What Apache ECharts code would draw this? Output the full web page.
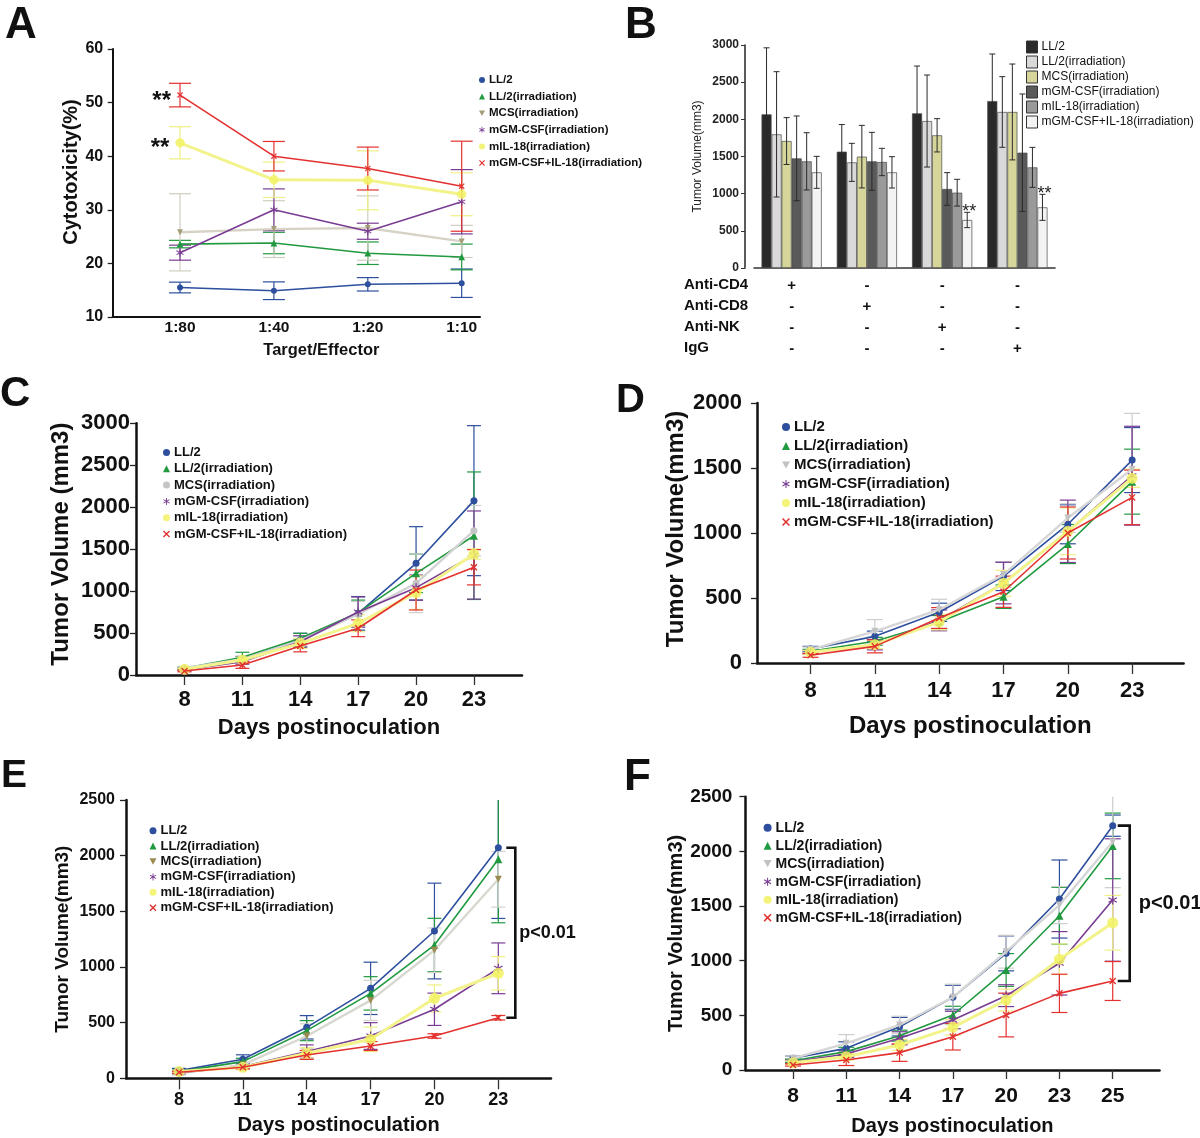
<!DOCTYPE html>
<html><head><meta charset="utf-8">
<script src="https://cdn.jsdelivr.net/npm/echarts@6/dist/echarts.min.js"></script>
<style>html,body{margin:0;padding:0;background:#fff}#c{width:1200px;height:1138px}</style>
</head><body><div id="c"></div>
<script>
// ---------------- DATA ----------------
const names = ['LL/2','LL/2(irradiation)','MCS(irradiation)','mGM-CSF(irradiation)','mIL-18(irradiation)','mGM-CSF+IL-18(irradiation)'];

// Panel A: cytotoxicity (%)
const A_ratios = ['1:80','1:40','1:20','1:10'];
const A_LL2 = [15.5,14.9,16.1,16.3];        const A_LL2_err = [1.0,1.65,1.25,2.65];
const A_LL2irr = [23.6,23.8,21.9,21.2];     const A_LL2irr_err = [0.7,2.0,2.1,2.4];
const A_MCS = [25.8,26.4,26.6,24.1];        const A_MCS_err = [7.2,5.3,6.0,3.0];
const A_GM = [22.0,30.0,26.0,31.5];         const A_GM_err = [1.4,3.9,1.5,6.0];
const A_IL18 = [42.5,35.6,35.5,32.9];       const A_IL18_err = [3.0,3.3,5.5,4.0];
const A_combo = [51.4,40.0,37.7,34.4];      const A_combo_err = [2.2,2.75,4.0,8.4];
const A_IL18_sig = ['**','','',''];
const A_combo_sig = ['**','','',''];

// Panel B: tumor volume with depletion
const B_treatments = ['Anti-CD4','Anti-CD8','Anti-NK','IgG'];
const B_signs = { 'Anti-CD4':['+','-','-','-'], 'Anti-CD8':['-','+','-','-'], 'Anti-NK':['-','-','+','-'], 'IgG':['-','-','-','+'] };
const B_LL2 = [2067,1565,2081,2246];        const B_LL2_err = [895,365,636,633];
const B_LL2irr = [1798,1421,1977,2099];     const B_LL2irr_err = [843,256,619,475];
const B_MCS = [1708,1498,1785,2099];        const B_MCS_err = [315,421,224,645];
const B_GM = [1475,1435,1063,1551];         const B_GM_err = [570,390,220,790];
const B_IL18 = [1435,1426,1013,1354];       const B_IL18_err = [385,184,180,269];
const B_combo = [1287,1287,646,816];        const B_combo_err = [215,211,103,175];
const B_combo_sig = ['','','**','**'];

// Panels C, D, E: days 8..23
const days6 = ['8','11','14','17','20','23'];
const C_LL2 = [68,185,417,735,1331,2078];   const C_LL2_err = [15,35,80,200,437,894];
const C_LL2irr = [80,211,437,743,1212,1660];const C_LL2irr_err = [15,60,60,150,230,760];
const C_MCS = [80,187,409,725,1093,1720];   const C_MCS_err = [15,40,60,150,350,300];
const C_GM = [60,159,397,750,1041,1430];    const C_GM_err = [10,30,70,180,150,525];
const C_IL18 = [68,179,377,616,981,1442];   const C_IL18_err = [10,30,60,100,200,60];
const C_combo = [48,119,346,557,1013,1284]; const C_combo_err = [10,40,70,100,238,210];

const D_LL2 = [108,205,390,667,1067,1561];  const D_LL2_err = [20,40,70,110,150,250];
const D_LL2irr = [90,167,315,510,915,1395]; const D_LL2irr_err = [15,30,50,90,150,250];
const D_MCS = [103,244,410,680,1115,1490];  const D_MCS_err = [20,90,80,100,110,430];
const D_GM = [82,141,328,615,1013,1441];    const D_GM_err = [15,40,80,160,240,380];
const D_IL18 = [82,141,315,613,1013,1421];  const D_IL18_err = [15,30,60,100,180,70];
const D_combo = [59,128,346,548,1000,1274]; const D_combo_err = [15,50,80,120,200,210];

const E_LL2 = [69,171,458,808,1323,2071];   const E_LL2_err = [20,40,105,235,430,635];
const E_LL2irr = [60,150,428,763,1197,1967];const E_LL2irr_err = [15,30,90,150,240,570];
const E_MCS = [45,120,380,700,1150,1788];   const E_MCS_err = [15,30,110,180,200,250];
const E_GM = [51,105,240,380,620,988];      const E_GM_err = [10,20,60,120,145,228];
const E_IL18 = [60,99,225,350,719,943];     const E_IL18_err = [10,20,50,110,120,150];
const E_combo = [54,99,210,290,380,544];    const E_combo_err = [10,15,40,40,20,20];

// Panel F: days 8..25
const days7 = ['8','11','14','17','20','23','25'];
const F_LL2 = [107,198,396,665,1067,1564,2235];  const F_LL2_err = [20,60,85,110,160,357,97];
const F_LL2irr = [85,168,314,503,915,1411,2050]; const F_LL2irr_err = [15,40,50,80,150,260,300];
const F_MCS = [107,244,412,665,1082,1509,2088];  const F_MCS_err = [20,80,80,120,150,170,420];
const F_GM = [76,146,290,457,680,976,1555];      const F_GM_err = [15,30,60,80,100,290,560];
const F_IL18 = [67,122,229,390,640,1013,1347];   const F_IL18_err = [15,30,50,70,100,140,250];
const F_combo = [46,91,159,305,503,701,814];     const F_combo_err = [10,50,80,122,200,175,178];

const pText = 'p<0.01';

// ---------------- STYLE / BUILD ----------------
const FONT = '"Liberation Sans", Arial, Helvetica, sans-serif';
const NARROW = '"Liberation Sans Narrow", "Arial Narrow", "Liberation Sans", sans-serif';
const plain = v => String(v);

function bar(a, w) {
  const r = a * Math.PI / 180, dx = Math.cos(r), dy = Math.sin(r), px = -dy * w, py = dx * w;
  const p = [[dx+px,dy+py],[dx-px,dy-py],[-dx-px,-dy-py],[-dx+px,-dy+py]];
  return 'M' + p.map(q => q[0].toFixed(3) + ',' + q[1].toFixed(3)).join(' L') + ' Z ';
}
const CROSS = 'path://' + bar(45, 0.16) + bar(-45, 0.16);
const STAR = 'path://' + bar(90, 0.13) + bar(30, 0.13) + bar(-30, 0.13);
const DOWN = 'path://M-1,-0.9 L1,-0.9 L0,0.9 Z';

const COL = { blue:'#2d4f9e', green:'#20993f', purple:'#7a3c93', red:'#e3312f' };
const MCS_STYLE = {
  A:{sym:DOWN, color:'#a39e78', line:'#d6d3c6', err:'#d0cdc0'},
  C:{sym:'circle', color:'#c4c4c4', line:'#d2d2d2', err:'#cfcfcf'},
  D:{sym:DOWN, color:'#c2c2c2', line:'#d6d6d6', err:'#cdcdcd'},
  E:{sym:DOWN, color:'#9a8c50', line:'#d8d8d0', err:'#d2d2ca'},
  F:{sym:DOWN, color:'#c2c2c2', line:'#d6d6d6', err:'#cdcdcd'}
};
function styleFor(P, k) {
  const s = P === 'A' ? 0.85 : 1;
  switch (k) {
    case 0: return {sym:'circle', size:7*s, color:COL.blue, line:COL.blue, lw:1.6, err:COL.blue};
    case 1: return {sym:'triangle', size:8*s, color:COL.green, line:COL.green, lw:1.6, err:COL.green};
    case 2: { const m = MCS_STYLE[P]; return {sym:m.sym, size:7*s, color:m.color, line:m.line, lw:2.4, err:m.err}; }
    case 3: return {sym:STAR, size:9*s, color:COL.purple, line:COL.purple, lw:1.6, err:COL.purple};
    case 4: return {sym:'circle', size:11*s, color:'rgba(242,242,100,0.85)', line:'#f3f38c', lw:3, err:'#efef84'};
    default: return {sym:CROSS, size:7*s, color:COL.red, line:COL.red, lw:1.6, err:COL.red};
  }
}

const panels = {
  A:{gi:0, labels:A_ratios, means:[A_LL2,A_LL2irr,A_MCS,A_GM,A_IL18,A_combo],
     errs:[A_LL2_err,A_LL2irr_err,A_MCS_err,A_GM_err,A_IL18_err,A_combo_err],
     sig:[null,null,null,null,A_IL18_sig,A_combo_sig], ymin:10, ymax:60, yint:10, cap:11},
  C:{gi:2, labels:days6, means:[C_LL2,C_LL2irr,C_MCS,C_GM,C_IL18,C_combo],
     errs:[C_LL2_err,C_LL2irr_err,C_MCS_err,C_GM_err,C_IL18_err,C_combo_err], ymin:0, ymax:3000, yint:500, cap:7},
  D:{gi:3, labels:days6, means:[D_LL2,D_LL2irr,D_MCS,D_GM,D_IL18,D_combo],
     errs:[D_LL2_err,D_LL2irr_err,D_MCS_err,D_GM_err,D_IL18_err,D_combo_err], ymin:0, ymax:2000, yint:500, cap:8},
  E:{gi:4, labels:days6, means:[E_LL2,E_LL2irr,E_MCS,E_GM,E_IL18,E_combo],
     errs:[E_LL2_err,E_LL2irr_err,E_MCS_err,E_GM_err,E_IL18_err,E_combo_err], ymin:0, ymax:2500, yint:500, cap:7,
     bracket:{dxTick:8, dxLine:17, textDx:4, font:'bold 18px '+FONT}},
  F:{gi:5, labels:days7, means:[F_LL2,F_LL2irr,F_MCS,F_GM,F_IL18,F_combo],
     errs:[F_LL2_err,F_LL2irr_err,F_MCS_err,F_GM_err,F_IL18_err,F_combo_err], ymin:0, ymax:2500, yint:500, cap:8,
     bracket:{dxTick:5, dxLine:17, textDx:9, font:'bold 20px '+FONT}}
};

const grids = [
  {left:112.7, top:49, width:367.3, height:268},
  {left:754, top:45, width:301, height:223},
  {left:136, top:423.3, width:386, height:251.7},
  {left:757, top:403, width:426.6, height:260},
  {left:126, top:800, width:425, height:278.3},
  {left:745.4, top:796.7, width:414.1, height:273.3}
];

// axis layout per panel
const AX = {
  A:{xmin:-0.717, xmax:3.195, font:NARROW, xfs:15.5, yfs:16, axisW:2, tick:false, tickLen:0, xMargin:3, yMargin:9.5, yTickLen:5,
     xname:'Target/Effector', xnameFont:NARROW, xnameFs:16.5, xnameGap:25, xnamePad:[0,0,0,50],
     yname:'Cytotoxicity(%)', ynameFs:20, ynameGap:22.7, ynamePad:[0,0,0,22]},
  C:{xmin:-0.838, xmax:5.83, font:FONT, xfs:22, yfs:22, axisW:2.5, tick:true, tickLen:10, xMargin:14, yMargin:6, yTickLen:6,
     xname:'Days postinoculation', xnameFont:FONT, xnameFs:22, xnameGap:42, xnamePad:[0,0,0,0],
     yname:'Tumor Volume (mm3)', ynameFs:24, ynameGap:63, ynamePad:[0,0,0,10]},
  D:{xmin:-0.832, xmax:5.80, font:FONT, xfs:22, yfs:22, axisW:2.5, tick:true, tickLen:11, xMargin:17, yMargin:15, yTickLen:6,
     xname:'Days postinoculation', xnameFont:FONT, xnameFs:24, xnameGap:51, xnamePad:[0,0,0,0],
     yname:'Tumor Volume(mm3)', ynameFs:24, ynameGap:68.5, ynamePad:[0,0,0,8]},
  E:{xmin:-0.83, xmax:5.825, font:FONT, xfs:18, yfs:16, axisW:2.5, tick:true, tickLen:11, xMargin:12.5, yMargin:11, yTickLen:6,
     xname:'Days postinoculation', xnameFont:FONT, xnameFs:20, xnameGap:36.7, xnamePad:[0,0,0,0],
     yname:'Tumor Volume(mm3)', ynameFs:19, ynameGap:53.5, ynamePad:[0,0,0,0]},
  F:{xmin:-0.893, xmax:6.878, font:FONT, xfs:21, yfs:19, axisW:2.5, tick:true, tickLen:9, xMargin:16, yMargin:13, yTickLen:6,
     xname:'Days postinoculation', xnameFont:FONT, xnameFs:20, xnameGap:46, xnamePad:[0,0,0,0],
     yname:'Tumor Volume(mm3)', ynameFs:20, ynameGap:59, ynamePad:[0,0,0,0]}
};

const xAxes = [], yAxes = [], series = [];

function makeLineAxes(P) {
  const p = panels[P], a = AX[P];
  const idx = p.labels.map((_, i) => i);
  xAxes[p.gi] = {
    type:'value', gridIndex:p.gi, min:a.xmin, max:a.xmax, splitLine:{show:false},
    axisLine:{show:true, onZero:false, lineStyle:{color:'#111', width:a.axisW}},
    axisTick:{show:a.tick, customValues:idx, length:a.tickLen, lineStyle:{color:'#333', width:1.3}},
    axisLabel:{customValues:idx, formatter:v => p.labels[Math.round(v)], fontFamily:a.font, fontWeight:'bold',
               fontSize:a.xfs, color:'#111', margin:a.xMargin},
    name:a.xname, nameLocation:'middle', nameGap:a.xnameGap,
    nameTextStyle:{fontFamily:a.xnameFont, fontWeight:'bold', fontSize:a.xnameFs, color:'#111', padding:a.xnamePad, lineHeight:a.xnameFs}
  };
  yAxes[p.gi] = {
    type:'value', gridIndex:p.gi, min:p.ymin, max:p.ymax, interval:p.yint, splitLine:{show:false},
    axisLine:{show:true, onZero:false, lineStyle:{color:'#111', width:a.axisW}},
    axisTick:{show:true, length:a.yTickLen, lineStyle:{color:'#222', width:1.3}},
    axisLabel:{formatter:plain, fontFamily:a.font, fontWeight:'bold', fontSize:a.yfs, color:'#111', margin:a.yMargin},
    name:a.yname, nameLocation:'middle', nameRotate:90, nameGap:a.ynameGap,
    nameTextStyle:{fontFamily:FONT, fontWeight:'bold', fontSize:a.ynameFs, color:'#111', padding:a.ynamePad, lineHeight:a.ynameFs}
  };
}

function errSeries(gi, pts, color, cap, lw, ymax) {
  return {
    type:'custom', xAxisIndex:gi, yAxisIndex:gi, z:2, silent:true, data:pts, encode:{x:0, y:1},
    renderItem:(params, api) => {
      const x = api.value(0), y = api.value(1), e = api.value(2);
      const hiV = Math.min(y + e, ymax);
      const t = api.coord([x, hiV]), b = api.coord([x, y - e]);
      const st = {stroke:color, lineWidth:lw};
      const ch = [{type:'line', shape:{x1:t[0], y1:t[1], x2:b[0], y2:b[1]}, style:st}];
      if (y + e <= ymax) ch.push({type:'line', shape:{x1:t[0]-cap, y1:t[1], x2:t[0]+cap, y2:t[1]}, style:st});
      ch.push({type:'line', shape:{x1:b[0]-cap, y1:b[1], x2:b[0]+cap, y2:b[1]}, style:st});
      return {type:'group', children:ch};
    }
  };
}

function makeLineSeries(P) {
  const p = panels[P];
  p.means.forEach((vals, k) => {
    const s = styleFor(P, k);
    const errs = p.errs[k];
    series.push(errSeries(p.gi, vals.map((v, i) => [i, v, errs[i]]), s.err, p.cap, 1.2, p.ymax));
    const sig = p.sig ? p.sig[k] : null;
    series.push({
      type:'line', name:names[k] + '|' + P, xAxisIndex:p.gi, yAxisIndex:p.gi, z:3 + k,
      symbol:s.sym, symbolSize:s.size, showAllSymbol:true,
      itemStyle:{color:s.color}, lineStyle:{color:s.line, width:s.lw},
      emphasis:{disabled:true},
      data: vals.map((v, i) => {
        const item = {value:[i, v]};
        if (sig && sig[i]) item.label = {show:true, formatter:sig[i], position:'left', distance:6, offset:[0, 6],
          fontFamily:FONT, fontWeight:'bold', fontSize:24, color:'#111'};
        return item;
      })
    });
  });
  if (p.bracket) {
    const last = p.means.map(v => v[v.length - 1]);
    const top = Math.max(...last), bot = Math.min(...last), xi = p.labels.length - 1, br = p.bracket;
    series.push({
      type:'custom', xAxisIndex:p.gi, yAxisIndex:p.gi, z:10, silent:true, data:[[xi, top, bot]], encode:{x:0, y:1},
      renderItem:(params, api) => {
        const t = api.coord([api.value(0), api.value(1)]), b = api.coord([api.value(0), api.value(2)]);
        const x1 = t[0] + br.dxTick, x2 = t[0] + br.dxLine;
        return {type:'group', children:[
          {type:'polyline', shape:{points:[[x1, t[1]], [x2, t[1]], [x2, b[1]], [x1, b[1]]]}, style:{stroke:'#111', lineWidth:2.6, fill:null}},
          {type:'text', style:{text:pText, x:x2 + br.textDx, y:(t[1] + b[1]) / 2, align:'left', verticalAlign:'middle', font:br.font, fill:'#111'}}
        ]};
      }
    });
  }
}

['A','C','D','E','F'].forEach(P => { makeLineAxes(P); makeLineSeries(P); });

// Panel B axes & bars
xAxes[1] = {
  type:'category', gridIndex:1, data:B_treatments, boundaryGap:true,
  axisLine:{show:true, onZero:false, lineStyle:{color:'#333', width:1.6}}, axisTick:{show:false},
  axisLabel:{interval:0, margin:7.5, lineHeight:21, fontFamily:FONT, fontWeight:'bold', fontSize:15, color:'#111',
    formatter:(v, i) => B_treatments.map(t => B_signs[t][i]).join('\n')}
};
yAxes[1] = {
  type:'value', gridIndex:1, min:0, max:3000, interval:500, offset:9, splitLine:{show:false},
  axisLine:{show:true, onZero:false, lineStyle:{color:'#333', width:1.6}},
  axisTick:{show:true, length:4, lineStyle:{color:'#333'}},
  axisLabel:{formatter:plain, fontFamily:FONT, fontWeight:'bold', fontSize:12, color:'#222', margin:6},
  name:'Tumor Volume(mm3)', nameLocation:'middle', nameRotate:90, nameGap:41,
  nameTextStyle:{fontFamily:FONT, fontSize:12, color:'#222', lineHeight:12}
};
const B_vals = [B_LL2,B_LL2irr,B_MCS,B_GM,B_IL18,B_combo];
const B_errs = [B_LL2_err,B_LL2irr_err,B_MCS_err,B_GM_err,B_IL18_err,B_combo_err];
const B_sigs = [null,null,null,null,null,B_combo_sig];
const B_colors = ['#2a2a2a','#d9d9d9','#d6d69a','#5a5a5a','#9a9a9a','#f3f3f3'];
B_vals.forEach((vals, k) => {
  series.push({type:'bar', name:names[k] + '|B', xAxisIndex:1, yAxisIndex:1, data:vals, barGap:'0%', barCategoryGap:'20%',
    itemStyle:{color:B_colors[k], borderColor:'#4a4a4a', borderWidth:0.7}, emphasis:{disabled:true}, z:2});
});
B_vals.forEach((vals, k) => {
  const errs = B_errs[k], sig = B_sigs[k];
  series.push({
    type:'custom', xAxisIndex:1, yAxisIndex:1, z:6, silent:true, data:vals.map((v, i) => [i, v, errs[i]]), encode:{x:0, y:1},
    renderItem:(params, api) => {
      const i = api.value(0), v = api.value(1), e = api.value(2);
      const band = api.size([1, 0])[0], bw = band * 0.8 / 6;
      const x = api.coord([i, v])[0] + (k - 2.5) * bw;
      const t = api.coord([i, v + e])[1], b = api.coord([i, v - e])[1];
      const st = {stroke:'#2a2a2a', lineWidth:1};
      const ch = [
        {type:'line', shape:{x1:x, y1:t, x2:x, y2:b}, style:st},
        {type:'line', shape:{x1:x-3, y1:t, x2:x+3, y2:t}, style:st},
        {type:'line', shape:{x1:x-3, y1:b, x2:x+3, y2:b}, style:st}
      ];
      if (sig && sig[params.dataIndex]) ch.push({type:'text', style:{text:sig[params.dataIndex], x:x + 2, y:t, align:'center', verticalAlign:'middle', font:'18px ' + FONT, fill:'#222'}});
      return {type:'group', children:ch};
    }
  });
});

// Legends
function legIcon(P, k) {
  if (P === 'B') return 'rect';
  return [ 'circle', 'triangle', MCS_STYLE[P].sym, STAR, 'circle', CROSS ][k];
}
function legColor(P, k) {
  if (P === 'B') return B_colors[k];
  return styleFor(P, k).color;
}
const LEG = [
  {P:'A', left:479, top:73, iw:6, ih:6, font:NARROW, fs:11.5, lh:14, gap:2.6, weight:'bold'},
  {P:'B', left:1026, top:40, iw:11, ih:12, font:FONT, fs:12, lh:14, gap:1, weight:'normal'},
  {P:'C', left:163, top:445, iw:7, ih:7, font:FONT, fs:13, lh:15, gap:1.3, weight:'bold'},
  {P:'D', left:782, top:418.5, iw:8, ih:8, font:FONT, fs:15, lh:17, gap:2, weight:'bold'},
  {P:'E', left:149.5, top:823.7, iw:7, ih:7, font:FONT, fs:13, lh:14, gap:1.4, weight:'bold'},
  {P:'F', left:763.6, top:819.7, iw:8, ih:8, font:FONT, fs:14, lh:16, gap:2, weight:'bold'}
];
const legends = LEG.map(L => ({
  orient:'vertical', left:L.left, top:L.top, padding:0, itemGap:L.gap, itemWidth:L.iw, itemHeight:L.ih,
  selectedMode:false, formatter:n => n.split('|')[0],
  textStyle:{fontFamily:L.font, fontSize:L.fs, fontWeight:L.weight, color:'#111', lineHeight:L.lh, padding:[0,0,0,-1]},
  data:names.map((n, k) => ({name:n + '|' + L.P, icon:legIcon(L.P, k),
    itemStyle: L.P === 'B' ? {color:legColor(L.P, k), borderColor:'#333', borderWidth:1} : {color:legColor(L.P, k), borderWidth:0}}))
}));

// Panel letters + row labels of the table in B
const letters = [
  {t:'A', x:5, y:26, fs:44}, {t:'B', x:625, y:26, fs:44}, {t:'C', x:0, y:394, fs:42},
  {t:'D', x:616, y:401, fs:40}, {t:'E', x:1, y:776, fs:39}, {t:'F', x:624, y:778, fs:44}
];
const graphic = letters.map(l => ({type:'text', left:l.x, top:l.y - l.fs / 2,
  style:{text:l.t, font:'bold ' + l.fs + 'px ' + FONT, fill:'#111'}}));
B_treatments.forEach((t, r) => graphic.push({type:'text', left:684, top:286 + r * 21 - 9,
  style:{text:t, font:'bold 15px ' + FONT, fill:'#111'}}));

const chart = echarts.init(document.getElementById('c'), null, {renderer:'canvas'});
chart.setOption({
  animation:false, backgroundColor:'#fff',
  textStyle:{fontFamily:FONT},
  grid:grids.map(g => Object.assign({containLabel:false}, g)),
  xAxis:xAxes, yAxis:yAxes, legend:legends, series:series, graphic:graphic
});
</script></body></html>
